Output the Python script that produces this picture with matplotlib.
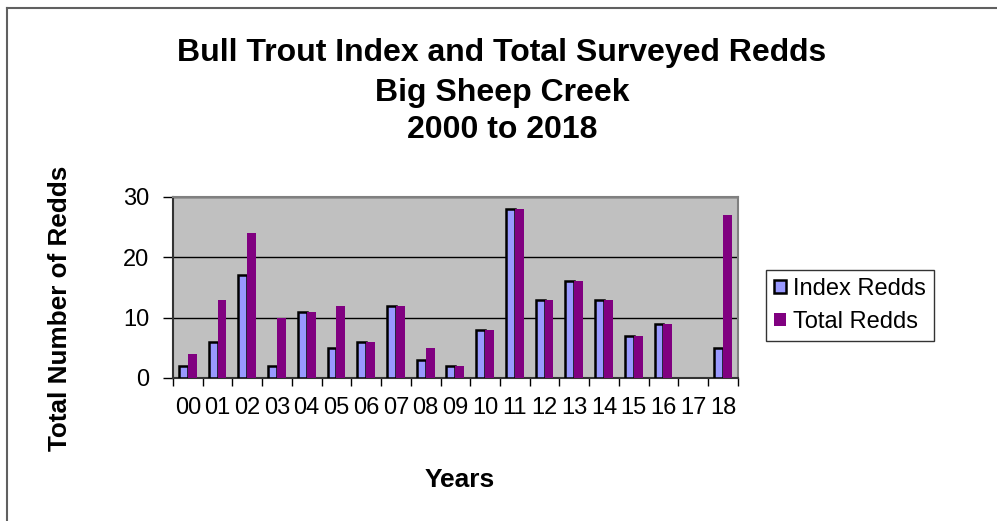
import numpy as np
import matplotlib
matplotlib.use("Agg")
import matplotlib.pyplot as plt
from matplotlib.lines import Line2D

plt.rcParams["font.family"] = ["Liberation Sans", "DejaVu Sans"]

years = ["00", "01", "02", "03", "04", "05", "06", "07", "08", "09",
         "10", "11", "12", "13", "14", "15", "16", "17", "18"]
index_redds = [2, 6, 17, 2, 11, 5, 6, 12, 3, 2, 8, 28, 13, 16, 13, 7, 9, np.nan, 5]
total_redds = [4, 13, 24, 10, 11, 12, 6, 12, 5, 2, 8, 28, 13, 16, 13, 7, 9, np.nan, 27]

title_lines = ["Bull Trout Index and Total Surveyed Redds", "Big Sheep Creek", "2000 to 2018"]


def main():
    fig = plt.figure(figsize=(9.97, 5.21), dpi=100)
    ax = fig.add_axes([0.1735, 0.2745, 0.5665, 0.3474])
    ax.set_facecolor("#C0C0C0")

    x = np.arange(len(years))
    w = 0.3
    ax.bar(x - w / 2, index_redds, w, color="#9999FF", edgecolor="black",
           linewidth=1.8, label="Index Redds", zorder=3)
    ax.bar(x + w / 2, total_redds, w, color="#800080", edgecolor="#800080",
           linewidth=0, label="Total Redds", zorder=3)

    ax.set_xlim(-0.5, len(years) - 0.5)
    ax.set_ylim(0, 30)
    ax.set_yticks([0, 10, 20, 30])
    ax.yaxis.grid(True, color="black", linewidth=1.0, zorder=1)
    ax.set_axisbelow(True)

    ax.set_xticks(x)
    ax.set_xticklabels(years)
    ax.set_xticks(np.arange(-0.5, len(years)), minor=True)
    ax.tick_params(axis="x", which="major", length=0, labelsize=17, pad=14)
    ax.tick_params(axis="x", which="minor", length=6, width=1, color="black")
    ax.tick_params(axis="y", length=7, width=1, labelsize=17, pad=10)

    for side in ["left", "bottom"]:
        ax.spines[side].set_color("#333333")
        ax.spines[side].set_linewidth(1.5)
    for side in ["top", "right"]:
        ax.spines[side].set_color("#808080")
        ax.spines[side].set_linewidth(1.5)

    for text, yy in zip(title_lines, [0.898, 0.822, 0.750]):
        fig.text(0.5035, yy, text, ha="center", va="center",
                 fontsize=23, fontweight="bold")

    fig.text(0.060, 0.409, "Total Number of Redds", rotation=90, ha="center",
             va="center", fontsize=18.8, fontweight="bold")
    fig.text(0.461, 0.079, "Years", ha="center", va="center",
             fontsize=19, fontweight="bold")

    leg = fig.legend(loc="upper left", bbox_to_anchor=(0.768, 0.482),
                     fontsize=17, frameon=True, fancybox=False,
                     handlelength=0.5, handleheight=0.5, handletextpad=0.3,
                     borderpad=0.35, labelspacing=0.45, borderaxespad=0)
    leg.get_frame().set_edgecolor("black")
    leg.get_frame().set_linewidth(1)

    # chart area border (only top and left visible)
    fig.add_artist(Line2D([7 / 997, 7 / 997], [0, 1 - 8 / 521],
                          transform=fig.transFigure, color="#606060", linewidth=1.5))
    fig.add_artist(Line2D([7 / 997, 1], [1 - 8 / 521, 1 - 8 / 521],
                          transform=fig.transFigure, color="#606060", linewidth=1.5))

    fig.savefig("out.png", dpi=100)


if __name__ == "__main__":
    main()
